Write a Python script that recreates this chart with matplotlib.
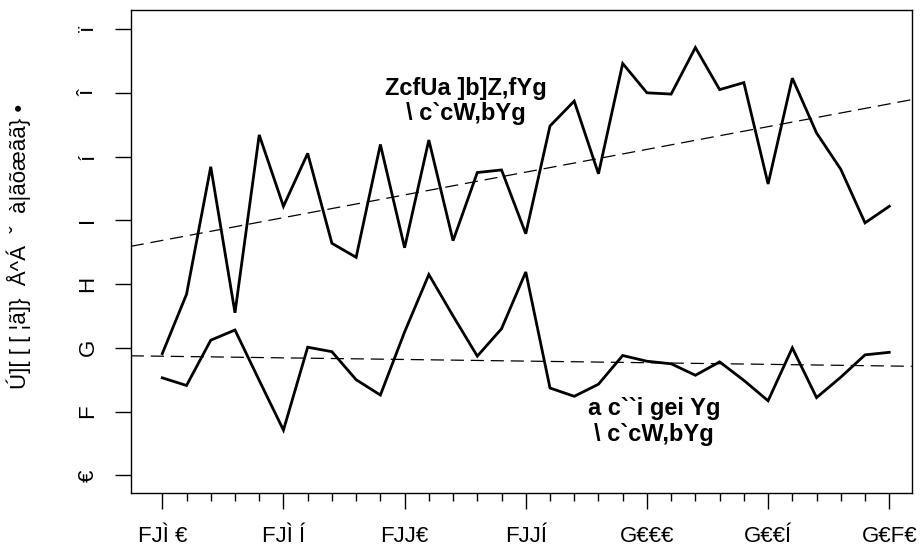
import numpy as np
import matplotlib
matplotlib.use('Agg')
import matplotlib.pyplot as plt

plt.rcParams['font.family'] = ['Liberation Sans', 'DejaVu Sans']

# values
years = list(range(1980, 2011))
upper = [1.91, 2.84, 4.84, 2.55, 5.34, 4.22, 5.05, 3.64, 3.42, 5.19,
         3.57, 5.26, 3.68, 4.75, 4.79, 3.79, 5.48, 5.87, 4.73, 6.46,
         6.00, 5.98, 6.71, 6.05, 6.16, 4.57, 6.23, 5.37, 4.80, 3.96, 4.22]
lower = [1.53, 1.41, 2.12, 2.28, 1.49, 0.71, 2.01, 1.94, 1.50, 1.26,
         2.25, 3.15, 2.50, 1.87, 2.30, 3.19, 1.37, 1.24, 1.43, 1.88,
         1.79, 1.75, 1.57, 1.78, 1.49, 1.17, 2.00, 1.22, 1.54, 1.89, 1.93]
xtick_pos = [1980, 1985, 1990, 1995, 2000, 2005, 2010]
xtick_lab = ['FJÌ €', 'FJÌ Í', 'FJJ€', 'FJJÍ', 'G€€€', 'G€€Í', 'G€F€']
ytick_pos = [0, 1, 2, 3, 4, 5, 6, 7]
ytick_lab = ['€', 'F', 'G', 'H', 'I', 'í', 'î', 'ï']
ylab = 'Ú][ [ [ ¦ã]}  Å^Á  ˇ  à|ãõæãã} •'
upper_txt = 'ZcfUa ]b]Z,fYg\n\\ c`cW,bYg'
lower_txt = 'a c``i gei Yg\n\\ c`cW,bYg'

fig = plt.figure(figsize=(9.21, 5.51), dpi=100)
ax = fig.add_axes([0.142, 0.106, 0.848, 0.876])

x = np.array(years)
ax.plot(x, upper, color='black', lw=2.0, solid_joinstyle='miter')
ax.plot(x, lower, color='black', lw=2.0, solid_joinstyle='miter')

# fitted trend lines across the whole plot
xl = np.array([1978.70, 2010.93])
for s in (upper, lower):
    b, a = np.polyfit(x, s, 1)
    ax.plot(xl, a + b * xl, color='black', lw=0.9, ls=(0, (10.5, 5.5)))

ax.text(1992.53, 5.87, upper_txt, ha='center', va='center', fontsize=17,
        fontweight='bold', linespacing=1.15)
ax.text(2000.3, 0.84, lower_txt, ha='center', va='center', fontsize=17,
        fontweight='bold', linespacing=1.15)

ax.set_xlim(xl[0], xl[1])
ax.set_ylim(-0.27, 7.30)
ax.set_xticks(xtick_pos)
ax.set_xticklabels(xtick_lab)
ax.set_xticks(years, minor=True)
ax.set_yticks(ytick_pos)
ax.set_yticklabels(ytick_lab, rotation=90, va='center')
ax.tick_params(axis='both', which='major', length=11.3, width=1.0, labelsize=16)
ax.tick_params(axis='x', which='minor', length=5.8, width=1.0)
ax.tick_params(axis='x', pad=13)
ax.tick_params(axis='y', pad=12)
ax.set_ylabel(ylab, fontsize=16)
ax.yaxis.set_label_coords(-0.128, 0.51)
for sp in ax.spines.values():
    sp.set_linewidth(1.0)

fig.savefig('out.png', dpi=100)
